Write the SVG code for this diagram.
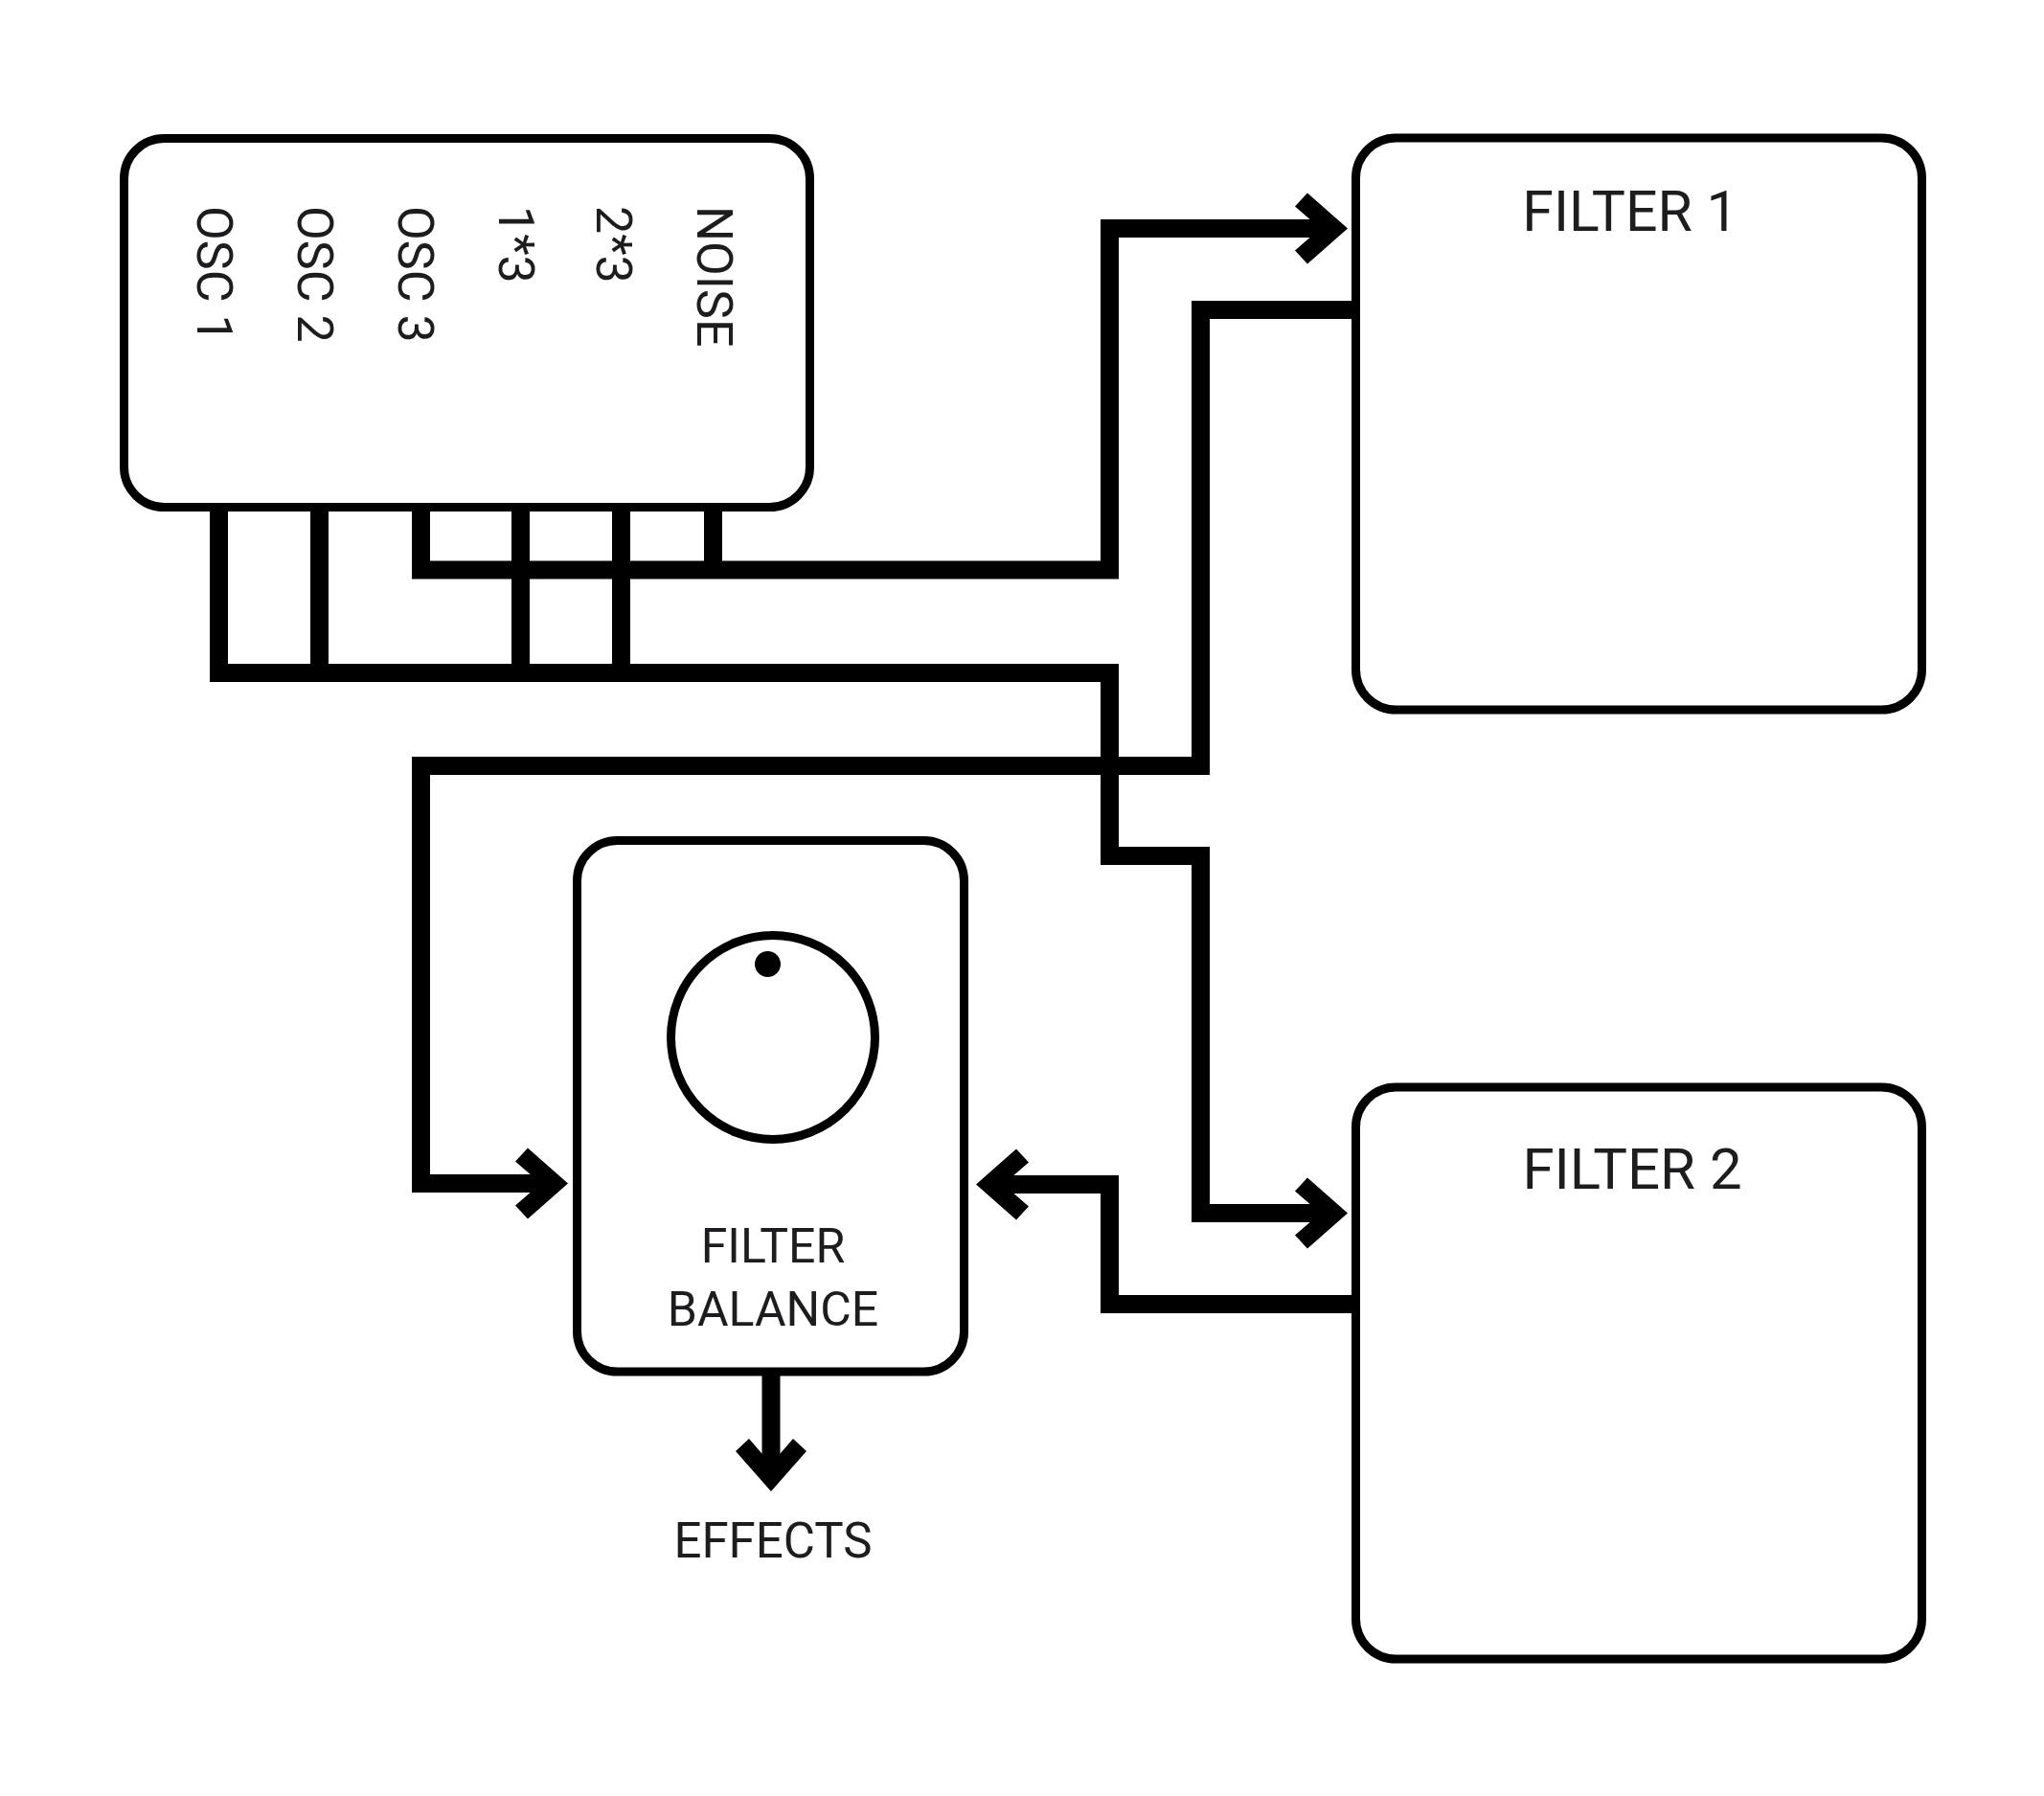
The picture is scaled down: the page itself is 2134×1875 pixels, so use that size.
<svg xmlns="http://www.w3.org/2000/svg" xmlns:xlink="http://www.w3.org/1999/xlink" width="2134" height="1875" viewBox="0 0 2134 1875">
<style>
.box{fill:#fff;stroke:#000;stroke-width:9}
.wire{fill:none;stroke:#000;stroke-width:19;stroke-linejoin:miter;stroke-linecap:butt}
.lbl{font-family:Roboto,"Liberation Sans",sans-serif;fill:#1d1d1f}
</style>
<defs>
<path id="ah" d="M0,0 L-42,-37 L-55,-23 L-28.5,0 L-55,23 L-42,37 Z" fill="#000"/>
</defs>
<rect width="2134" height="1875" fill="#fff"/>
<g id="connectors">
<path class="wire" d="M439.5,530 V595 H1158.5 V238.5 H1385"/>
<path class="wire" d="M744.5,530 V595"/>
<path class="wire" d="M228.5,530 V702.5 H1158.5 V893.5 H1253.5 V1266.5 H1385"/>
<path class="wire" d="M333.5,530 V702.5"/>
<path class="wire" d="M543.5,530 V702.5"/>
<path class="wire" d="M648.5,530 V702.5"/>
<path class="wire" d="M1415,323.5 H1253.5 V799.5 H439.5 V1235.5 H570"/>
<path class="wire" d="M1415,1361.5 H1158.5 V1236.5 H1040"/>
<path class="wire" d="M805,1432 V1535"/>
<use xlink:href="#ah" transform="translate(1407,238.5)"/>
<use xlink:href="#ah" transform="translate(1407,1266.5)"/>
<use xlink:href="#ah" transform="translate(593,1235.5)"/>
<use xlink:href="#ah" transform="translate(1019,1236.5) rotate(180)"/>
<use xlink:href="#ah" transform="translate(805,1557) rotate(90)"/>
</g>
<g id="oscillators">
<rect class="box" x="129.5" y="144.5" width="716" height="385" rx="42"/>
<text class="lbl" font-size="52" transform="translate(206,215) rotate(90)">OSC 1</text>
<text class="lbl" font-size="52" transform="translate(310.5,215) rotate(90)">OSC 2</text>
<text class="lbl" font-size="52" transform="translate(415.5,215) rotate(90)">OSC 3</text>
<text class="lbl" font-size="52" transform="translate(520.5,215) rotate(90)">1*3</text>
<text class="lbl" font-size="52" transform="translate(622.5,215) rotate(90)">2*3</text>
<text class="lbl" font-size="52" transform="translate(728,215) rotate(90)">NOISE</text>
</g>
<g id="filter1">
<rect class="box" x="1415.5" y="144" width="591" height="597" rx="42"/>
<text class="lbl" font-size="59" x="1702" y="241" text-anchor="middle">FILTER 1</text>
</g>
<g id="filter2">
<rect class="box" x="1415.5" y="1135" width="591" height="597" rx="42"/>
<text class="lbl" font-size="60" x="1704" y="1241" text-anchor="middle">FILTER 2</text>
</g>
<g id="filter-balance">
<rect class="box" x="602.5" y="877.5" width="404" height="554.5" rx="42"/>
<circle cx="807" cy="1083" r="106.5" fill="#fff" stroke="#000" stroke-width="9"/>
<circle cx="801.5" cy="1006.5" r="13.5" fill="#000"/>
<text class="lbl" font-size="50" x="807" y="1318" text-anchor="middle">FILTER</text>
<text class="lbl" font-size="50" x="807" y="1384" text-anchor="middle">BALANCE</text>
</g>
<g id="effects">
<text class="lbl" font-size="51" x="807" y="1626" text-anchor="middle">EFFECTS</text>
</g>
</svg>
